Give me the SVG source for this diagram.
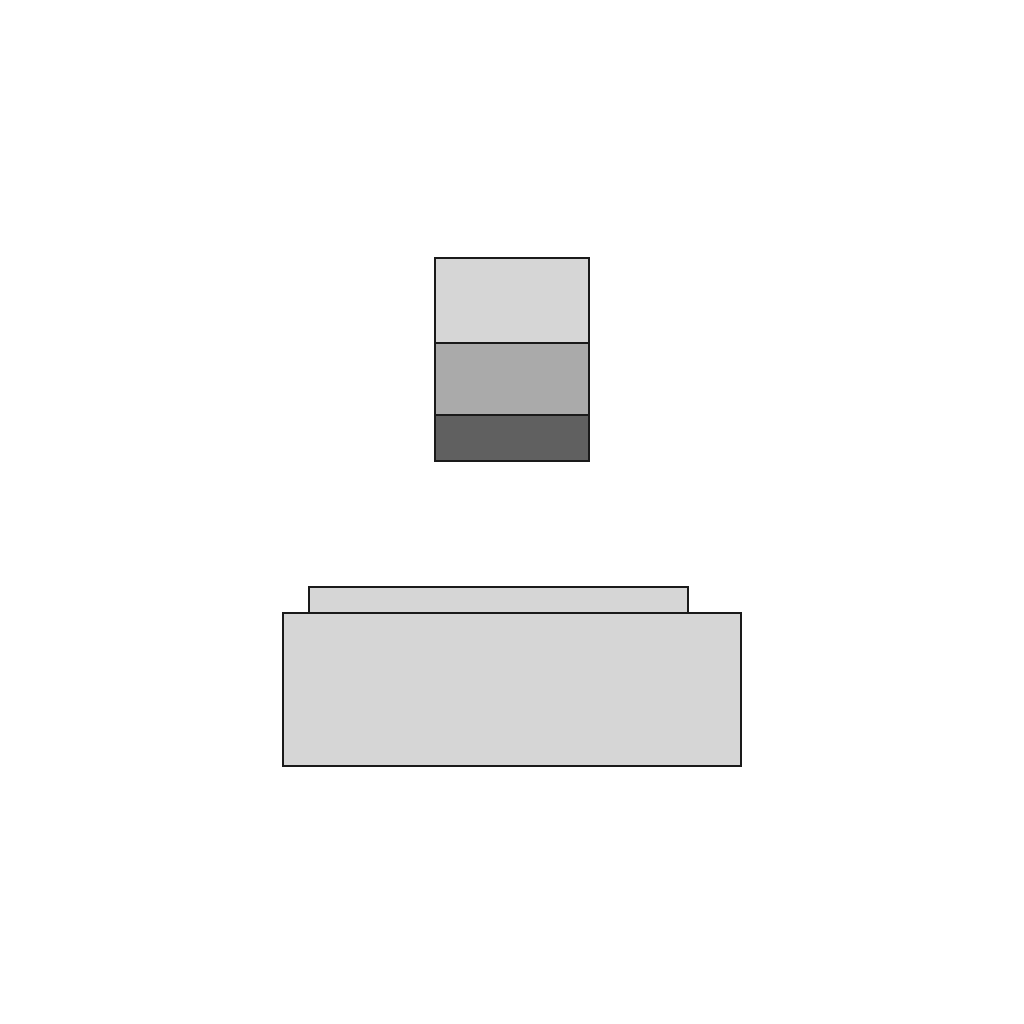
<svg xmlns="http://www.w3.org/2000/svg" width="1024" height="1024" viewBox="0 0 1024 1024">
<style>
.shape { stroke: #1a1a1a; stroke-width: 2; }
.light { fill: #d6d6d6; }
.mid { fill: #aaaaaa; }
.dark { fill: #606060; }
</style>
<rect x="0" y="0" width="1024" height="1024" fill="#ffffff"/>
<g id="stack">
<rect class="shape light" x="435" y="258" width="154" height="85"/>
<rect class="shape mid" x="435" y="343" width="154" height="72"/>
<rect class="shape dark" x="435" y="415" width="154" height="46"/>
</g>
<g id="base">
<rect class="shape light" x="309" y="587" width="379" height="26"/>
<rect class="shape light" x="283" y="613" width="458" height="153"/>
</g>
</svg>
